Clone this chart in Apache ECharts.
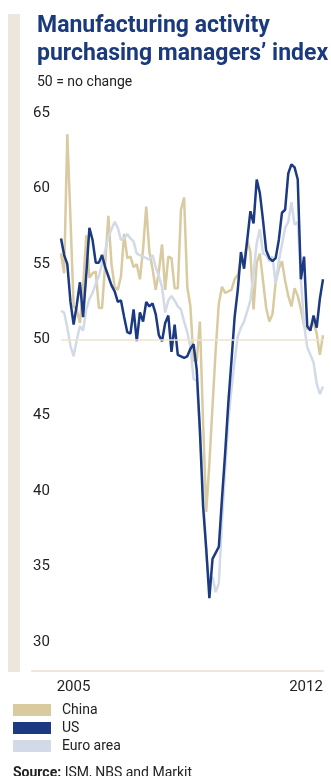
<!DOCTYPE html>
<html>
<head>
<meta charset="utf-8">
<script src="https://cdn.jsdelivr.net/npm/echarts@6/dist/echarts.min.js"></script>
<style>
html,body{margin:0;padding:0;background:#fff;}
#c{width:331px;height:776px;}
</style>
</head>
<body>
<div id="c"></div>
<script>
// Monthly PMI, Jan 2005 - Dec 2011
const years = [2005, 2006, 2007, 2008, 2009, 2010, 2011];
const china = [
  55.7, 54.4, 63.6, 58.0, 52.2, 52.0, 51.1, 53.5, 56.9, 54.1, 54.4, 54.5,
  52.1, 52.1, 55.0, 58.2, 55.0, 53.5, 53.3, 54.2, 57.0, 55.4, 55.5, 54.8,
  55.0, 54.0, 56.0, 58.8, 55.8, 54.7, 53.3, 54.5, 56.3, 53.3, 55.5, 55.4,
  53.4, 53.4, 58.6, 59.4, 53.5, 52.2, 48.6, 48.6, 51.2, 44.6, 38.6, 41.8,
  45.6, 49.3, 52.4, 53.5, 53.1, 53.2, 53.3, 54.0, 54.3, 55.2, 55.2, 56.6,
  55.8, 52.0, 55.1, 55.7, 53.9, 52.1, 51.2, 51.7, 53.8, 54.7, 55.2, 53.9,
  52.9, 52.2, 53.4, 52.9, 52.0, 50.9, 50.7, 50.9, 51.2, 50.4, 49.0, 50.3
];
const us = [
  56.7, 55.6, 55.0, 52.5, 51.0, 52.3, 53.8, 51.5, 54.3, 57.4, 56.6, 55.1,
  55.1, 55.6, 54.8, 54.2, 53.6, 53.2, 52.5, 52.6, 51.5, 50.5, 50.4, 52.0,
  49.9, 51.8, 51.2, 52.5, 52.2, 52.4, 51.7, 50.3, 49.9, 51.1, 51.6, 49.2,
  51.0, 49.0, 48.9, 48.8, 48.9, 49.4, 49.7, 48.0, 44.0, 39.0, 36.2, 32.9,
  35.5, 35.9, 36.3, 39.5, 42.5, 45.8, 48.6, 51.5, 53.3, 55.8, 54.7, 56.6,
  58.5, 57.7, 60.6, 59.7, 57.9, 55.9, 55.4, 55.2, 55.4, 56.6, 58.4, 58.6,
  61.0, 61.6, 61.4, 60.6, 54.0, 55.5, 50.9, 50.6, 51.6, 50.8, 52.7, 54.0
];
const euro = [
  51.9, 51.8, 50.8, 49.6, 48.9, 50.0, 50.9, 50.6, 52.0, 52.7, 53.1, 53.7,
  54.2, 55.0, 55.9, 56.8, 57.3, 57.8, 57.4, 56.6, 56.7, 57.0, 56.7, 56.5,
  55.7, 55.6, 55.5, 55.4, 55.3, 55.6, 54.8, 54.2, 53.5, 51.8, 52.6, 52.9,
  52.6, 52.2, 52.0, 51.2, 50.5, 49.5, 47.4, 47.3, 44.0, 40.3, 35.8, 33.9,
  34.3, 33.3, 33.9, 38.0, 41.4, 44.7, 46.7, 48.6, 50.2, 50.8, 51.2, 51.9,
  52.6, 54.4, 56.4, 57.3, 55.7, 55.6, 55.2, 55.5, 53.7, 55.2, 56.3, 57.4,
  57.8, 59.1, 57.6, 57.8, 54.0, 51.0, 49.5, 49.0, 48.5, 47.1, 46.4, 46.9
];
const tickLabels = ['2005', '2012'];
const yTicks = [30, 35, 40, 45, 50, 55, 60, 65];
const refLevel = 50;

const nMonths = years.length * 12;
const toPairs = arr => arr.map((v, i) => [i, v]);

const FONT = 'Roboto, "Liberation Sans", Arial, sans-serif';
const colChina = '#d9caa0';
const colUS = '#1c3a82';
const colEuro = '#d2dae8';
const beige = '#ede6dc';

const chart = echarts.init(document.getElementById('c'), null, {renderer: 'canvas'});
chart.setOption({
  animation: false,
  backgroundColor: '#fff',
  title: [
    {
      text: 'Manufacturing activity\npurchasing managers\u2019 index',
      left: 32, top: 7,
      textStyle: {fontFamily: FONT, fontWeight: 'bold', fontSize: 23, lineHeight: 28, color: '#1b3a7e'}
    },
    {
      text: '50 = no change',
      left: 32, top: 68,
      textStyle: {fontFamily: FONT, fontWeight: 'normal', fontSize: 14, lineHeight: 18, color: '#222'}
    },
    {
      text: '{b|Source:} ISM, NBS and Markit',
      left: 8, top: 760,
      textStyle: {
        fontFamily: FONT, fontWeight: 'normal', fontSize: 14, lineHeight: 16, color: '#222',
        rich: {b: {fontFamily: FONT, fontWeight: 'bold', fontSize: 14, lineHeight: 16, color: '#222'}}
      }
    }
  ],
  graphic: [
    {type: 'rect', left: 8, top: 14, shape: {width: 12, height: 658}, style: {fill: beige}, silent: true}
  ],
  legend: {
    data: ['China', 'US', 'Euro area'],
    orient: 'vertical',
    left: 8, top: 698,
    icon: 'rect',
    itemWidth: 38, itemHeight: 12, itemGap: 4,
    selectedMode: false,
    formatter: name => '{t|' + name + '}',
    textStyle: {
      fontFamily: FONT, fontSize: 14, color: '#222', lineHeight: 14,
      rich: {t: {fontFamily: FONT, fontSize: 14, color: '#222', lineHeight: 14, padding: [0, 0, 0, 6]}}
    }
  },
  grid: {left: 32, right: 8, top: 113, bottom: 134, containLabel: false},
  xAxis: {
    type: 'value',
    min: -9.187, max: nMonths - 1,
    offset: 29,
    axisLine: {show: true, lineStyle: {color: beige, width: 2}},
    axisTick: {show: false},
    splitLine: {show: false},
    axisLabel: {
      customValues: [0, nMonths - 1],
      margin: 9,
      formatter: v => (v === 0 ? '{a|' + tickLabels[0] + '}' : '{b|' + tickLabels[1] + '}'),
      rich: {
        a: {fontFamily: FONT, fontSize: 15, color: '#222', padding: [0, 0, 0, 25]},
        b: {fontFamily: FONT, fontSize: 15, color: '#222', padding: [0, 34, 0, 0]}
      }
    }
  },
  yAxis: {
    type: 'value',
    min: yTicks[0], max: yTicks[yTicks.length - 1], interval: 5,
    axisLine: {show: false},
    axisTick: {show: false},
    splitLine: {show: false},
    axisLabel: {inside: true, margin: 1, fontFamily: FONT, fontSize: 15, color: '#222'}
  },
  series: [
    {
      name: 'ref', type: 'line', data: [], z: 1, silent: true,
      markLine: {
        silent: true, symbol: 'none', animation: false,
        label: {show: false},
        lineStyle: {color: '#ece3d2', width: 1.5, type: 'solid'},
        emphasis: {disabled: true},
        data: [[{coord: [0, refLevel]}, {coord: [nMonths - 1, refLevel]}]]
      }
    },
    {
      name: 'China', type: 'line', data: toPairs(china), z: 2,
      showSymbol: false, symbol: 'none',
      itemStyle: {color: colChina},
      lineStyle: {color: colChina, width: 2.5}
    },
    {
      name: 'Euro area', type: 'line', data: toPairs(euro), z: 3,
      showSymbol: false, symbol: 'none',
      itemStyle: {color: colEuro},
      lineStyle: {color: colEuro, width: 2.5}
    },
    {
      name: 'US', type: 'line', data: toPairs(us), z: 4,
      showSymbol: false, symbol: 'none',
      itemStyle: {color: colUS},
      lineStyle: {color: colUS, width: 2.5}
    }
  ]
});
</script>
</body>
</html>
